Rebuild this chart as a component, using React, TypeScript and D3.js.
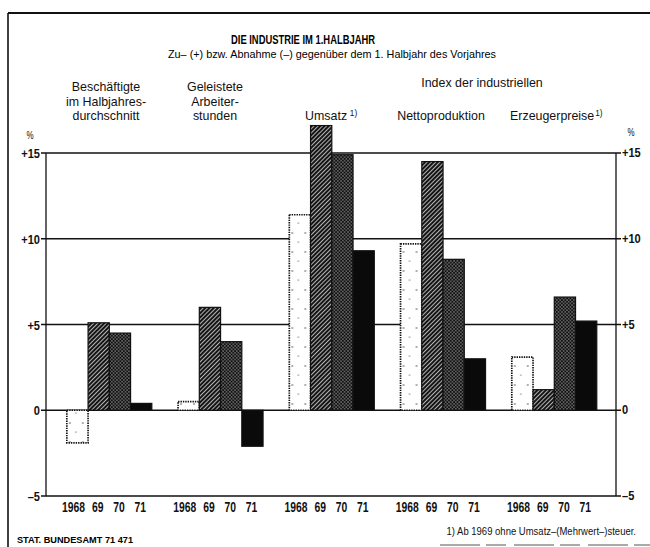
import { useEffect, useRef } from 'react';
import * as d3 from 'd3';

// Groups and years
const groups = ['Beschäftigte', 'Geleistete', 'Umsatz', 'Nettoproduktion', 'Erzeugerpreise'];
const years = ['1968', '69', '70', '71'];

// Change against the first half of the previous year, in %
const beschaeftigte = [-1.9, 5.1, 4.5, 0.4];
const arbeiterstunden = [0.5, 6.0, 4.0, -2.1];
const umsatz = [11.4, 16.6, 14.9, 9.3];
const nettoproduktion = [9.7, 14.5, 8.8, 3.0];
const erzeugerpreise = [3.1, 1.2, 6.6, 5.2];

const yTicks = [15, 10, 5, 0, -5];
const yTickLabels = ['+15', '+10', '+5', '0', '–5'];

const FONT = "'Liberation Sans', Arial, sans-serif";

type Opts = { size?: number; weight?: string; anchor?: string; sx?: number };

const App = () => {
  const svgRef = useRef<SVGSVGElement>(null);

  useEffect(() => {
    const width = 650;
    const height = 547;
    const plot = { left: 46, right: 616, top: 153, bottom: 496 };
    const series = [beschaeftigte, arbeiterstunden, umsatz, nettoproduktion, erzeugerpreise];

    const svg = d3.select(svgRef.current)
      .attr('width', width)
      .attr('height', height)
      .style('font-family', FONT);
    svg.selectAll('*').remove();

    // text squeezed horizontally, like the condensed type of the original
    const label = (parent: any, x: number, y: number, s: string, o: Opts = {}) =>
      parent.append('text')
        .attr('transform', `translate(${x},${y}) scale(${o.sx ?? 1},1)`)
        .attr('text-anchor', o.anchor ?? 'middle')
        .attr('font-size', o.size ?? 12.5)
        .attr('font-weight', o.weight ?? 'normal')
        .attr('fill', '#111')
        .text(s);

    // Patterns for the four years
    const defs = svg.append('defs');

    const sparse = defs.append('pattern')
      .attr('id', 'p68').attr('patternUnits', 'userSpaceOnUse')
      .attr('width', 13).attr('height', 19);
    sparse.append('rect').attr('width', 13).attr('height', 19).attr('fill', '#fff');
    sparse.append('circle').attr('cx', 3).attr('cy', 5).attr('r', 0.7).attr('fill', '#222');
    sparse.append('circle').attr('cx', 9).attr('cy', 14).attr('r', 0.6).attr('fill', '#222');

    const hatch = defs.append('pattern')
      .attr('id', 'p69').attr('patternUnits', 'userSpaceOnUse')
      .attr('width', 3).attr('height', 3)
      .attr('patternTransform', 'rotate(45)');
    hatch.append('rect').attr('width', 3).attr('height', 3).attr('fill', '#151515');
    hatch.append('line')
      .attr('x1', 1.5).attr('y1', 0).attr('x2', 1.5).attr('y2', 3)
      .attr('stroke', '#e8e8e8').attr('stroke-width', 0.75);

    const stipple = defs.append('pattern')
      .attr('id', 'p70').attr('patternUnits', 'userSpaceOnUse')
      .attr('width', 3.4).attr('height', 3.4);
    stipple.append('rect').attr('width', 3.4).attr('height', 3.4).attr('fill', '#101010');
    stipple.append('circle').attr('cx', 0.85).attr('cy', 0.85).attr('r', 0.55).attr('fill', '#f0f0f0');
    stipple.append('circle').attr('cx', 2.55).attr('cy', 2.55).attr('r', 0.55).attr('fill', '#f0f0f0');

    const fills = ['url(#p68)', 'url(#p69)', 'url(#p70)', '#0a0a0a'];

    // Scales
    const x0 = d3.scaleBand()
      .domain(groups)
      .range([plot.left, plot.right])
      .paddingInner(0.236)
      .paddingOuter(0.18)
      .align(0.52);

    const x1 = d3.scaleBand()
      .domain(years)
      .range([0, x0.bandwidth()]);

    const y = d3.scaleLinear()
      .domain([-5, 15])
      .range([plot.bottom, plot.top]);

    // Outer frame
    svg.append('line')
      .attr('x1', 8).attr('y1', 13).attr('x2', width).attr('y2', 13)
      .attr('stroke', '#111').attr('stroke-width', 2);
    svg.append('line')
      .attr('x1', 8).attr('y1', 13).attr('x2', 8).attr('y2', height)
      .attr('stroke', '#111').attr('stroke-width', 1.6);
    svg.append('line')
      .attr('x1', 440).attr('y1', 545).attr('x2', width).attr('y2', 545)
      .attr('stroke', '#555').attr('stroke-width', 1)
      .attr('stroke-dasharray', '40,6,20,8');

    // Grid lines and box
    svg.append('g').selectAll('line')
      .data(yTicks)
      .join('line')
      .attr('x1', plot.left - 5).attr('x2', plot.right + 5)
      .attr('y1', d => y(d)).attr('y2', d => y(d))
      .attr('stroke', '#111').attr('stroke-width', 1.3);

    svg.append('g').selectAll('line')
      .data([plot.left, plot.right])
      .join('line')
      .attr('x1', d => d).attr('x2', d => d)
      .attr('y1', y(15)).attr('y2', y(-5))
      .attr('stroke', '#111').attr('stroke-width', 1.3);

    // Axis labels both sides
    yTicks.forEach((t, i) => {
      label(svg, plot.left - 6, y(t) + 5, yTickLabels[i], { size: 13.5, weight: 'bold', anchor: 'end', sx: 0.82 });
      label(svg, plot.right + 6, y(t) + 4, yTickLabels[i], { size: 13.5, weight: 'bold', anchor: 'start', sx: 0.82 });
    });
    label(svg, 30, 139, '%', { size: 10, sx: 0.8 });
    label(svg, 631, 136, '%', { size: 10, sx: 0.8 });

    // Bars
    const groupG = svg.append('g').selectAll('g')
      .data(groups)
      .join('g')
      .attr('transform', d => `translate(${x0(d)},0)`);

    groupG.selectAll('rect')
      .data((g, gi) => series[gi].map((v, i) => ({ year: years[i], value: v, i })))
      .join('rect')
      .attr('x', d => x1(d.year)!)
      .attr('width', x1.bandwidth())
      .attr('y', d => y(Math.max(0, d.value)))
      .attr('height', d => Math.abs(y(d.value) - y(0)))
      .attr('fill', d => fills[d.i])
      .attr('stroke', '#111')
      .attr('stroke-width', d => d.i === 0 ? 1.7 : 1.2)
      .attr('stroke-dasharray', d => d.i === 0 ? '1.4,1' : null);

    // Year labels
    groupG.each(function () {
      const g = d3.select(this);
      years.forEach((yr, i) => {
        const cx = x1(yr)! + x1.bandwidth() / 2 - (i === 0 ? 4 : 1);
        label(g, cx, 512, yr, { size: 14, weight: 'bold', sx: 0.74 });
      });
    });

    // Title and subtitle
    svg.append('text')
      .attr('x', 303).attr('y', 44)
      .attr('text-anchor', 'middle')
      .attr('font-size', 12.5).attr('font-weight', 'bold')
      .attr('textLength', 144).attr('lengthAdjust', 'spacingAndGlyphs')
      .text('DIE INDUSTRIE IM 1.HALBJAHR');
    svg.append('text')
      .attr('x', 332).attr('y', 58)
      .attr('text-anchor', 'middle')
      .attr('font-size', 11.5)
      .attr('textLength', 328).attr('lengthAdjust', 'spacingAndGlyphs')
      .text('Zu– (+) bzw. Abnahme (–) gegenüber dem 1. Halbjahr des Vorjahres');

    // Group headings
    const hOpts: Opts = { size: 13.5, sx: 0.92 };
    ['Beschäftigte', 'im Halbjahres-', 'durchschnitt'].forEach((t, i) =>
      label(svg, 106, 91 + i * 14.5, t, hOpts));
    ['Geleistete', 'Arbeiter-', 'stunden'].forEach((t, i) =>
      label(svg, 215, 91 + i * 14.5, t, hOpts));
    label(svg, 482, 87, 'Index der industriellen', hOpts);
    label(svg, 441, 120, 'Nettoproduktion', hOpts);

    const umsatzT = label(svg, 305, 120, 'Umsatz', { ...hOpts, anchor: 'start' });
    umsatzT.append('tspan').attr('dx', 3).attr('dy', -4).attr('font-size', 9).text('1)');

    const erzT = label(svg, 510, 120, 'Erzeugerpreise', { ...hOpts, anchor: 'start' });
    erzT.append('tspan').attr('dx', 1).attr('dy', -4).attr('font-size', 9).text('1)');

    // Footer
    svg.append('text')
      .attr('x', 17).attr('y', 543)
      .attr('font-size', 9).attr('font-weight', 'bold')
      .attr('textLength', 116).attr('lengthAdjust', 'spacingAndGlyphs')
      .text('STAT. BUNDESAMT 71 471');
    label(svg, 636, 535, '1) Ab 1969 ohne Umsatz–(Mehrwert–)steuer.', { size: 10, anchor: 'end', sx: 0.95 });
  }, []);

  return (
    <svg ref={svgRef} style={{ position: 'absolute', left: 0, top: 0, background: '#fff' }}></svg>
  );
};

export default App;
